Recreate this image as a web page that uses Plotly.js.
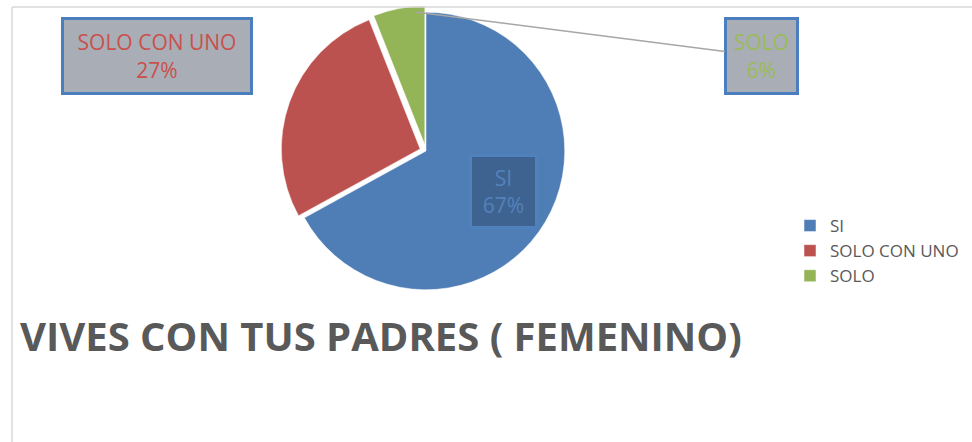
<!DOCTYPE html>
<html>
<head>
<meta charset="utf-8">
<script src="https://cdn.plot.ly/plotly-3.0.1.min.js"></script>
<style>html,body{margin:0;padding:0;background:#fff;}#chart{width:972px;height:442px;}</style>
</head>
<body>
<div id="chart"></div>
<script>
var categories = ["SI", "SOLO CON UNO", "SOLO"];
var values = [67, 27, 6];
var sliceColors = ["#4f7db5", "#bc524f", "#93b457"];
var labelTextColors = ["#5382bb", "#c9504c", "#9bbb59"];
var chartTitle = "VIVES CON TUS PADRES ( FEMENINO)";

var total = values.reduce(function(a, b){ return a + b; }, 0);
function pct(i){ return Math.round(values[i] / total * 100) + "%"; }

var W = 972, H = 442;
function px(x){ return x / W; }
function py(y){ return 1 - y / H; }

var pie = {
  type: "pie",
  labels: categories,
  values: values,
  sort: false,
  direction: "clockwise",
  rotation: 0,
  pull: [0, 0.045, 0.045],
  marker: {colors: sliceColors, line: {color: "rgba(255,255,255,0.5)", width: 1}},
  textinfo: "none",
  hoverinfo: "label+percent",
  domain: {x: [px(262), px(590)], y: [py(296), py(6)]}
};

var boxFont = "Open Sans, Liberation Sans, sans-serif";
var layout = {
  width: W, height: H,
  margin: {l: 0, r: 0, t: 0, b: 0},
  paper_bgcolor: "#ffffff",
  showlegend: true,
  legend: {
    x: px(790), y: py(208), xanchor: "left", yanchor: "top",
    font: {family: boxFont, size: 17, color: "#595959"},
    bgcolor: "rgba(0,0,0,0)"
  },
  title: {
    text: "<b>" + chartTitle + "</b>",
    x: px(20), xanchor: "left", xref: "paper",
    y: py(337), yanchor: "middle", yref: "paper",
    font: {family: "Open Sans, sans-serif", size: 40, color: "#595959"}
  },
  shapes: [
    {type: "line", xref: "paper", yref: "paper", x0: px(12), x1: 1, y0: py(7), y1: py(7), line: {color: "#d9d9d9", width: 1.5}},
    {type: "line", xref: "paper", yref: "paper", x0: px(12), x1: px(12), y0: 0, y1: py(7), line: {color: "#d9d9d9", width: 1.5}}
  ],
  annotations: [
    {
      text: categories[1] + "<br>" + pct(1),
      xref: "paper", yref: "paper", x: px(157), y: py(56), xanchor: "center", yanchor: "middle",
      showarrow: false, width: 184, height: 70,
      bgcolor: "#a9adb6", bordercolor: "#4a7ebf", borderwidth: 3,
      font: {family: boxFont, size: 21, color: labelTextColors[1]}
    },
    {
      text: categories[2] + "<br>" + pct(2),
      xref: "paper", yref: "paper", x: px(415), y: py(12),
      showarrow: true, arrowhead: 0, arrowwidth: 1.5, arrowcolor: "#a6a6a6",
      axref: "pixel", ayref: "pixel", ax: 346, ay: 44,
      width: 67, height: 70,
      bgcolor: "#a9adb6", bordercolor: "#4a7ebf", borderwidth: 3,
      font: {family: boxFont, size: 21, color: labelTextColors[2]}
    },
    {
      text: categories[0] + "<br>" + pct(0),
      xref: "paper", yref: "paper", x: px(503), y: py(191), xanchor: "center", yanchor: "middle",
      showarrow: false, width: 61, height: 67,
      bgcolor: "#3f6390", bordercolor: "#4f81bd", borderwidth: 3,
      font: {family: boxFont, size: 21, color: labelTextColors[0]}
    }
  ]
};

Plotly.newPlot("chart", [pie], layout, {displayModeBar: false});
</script>
</body>
</html>
